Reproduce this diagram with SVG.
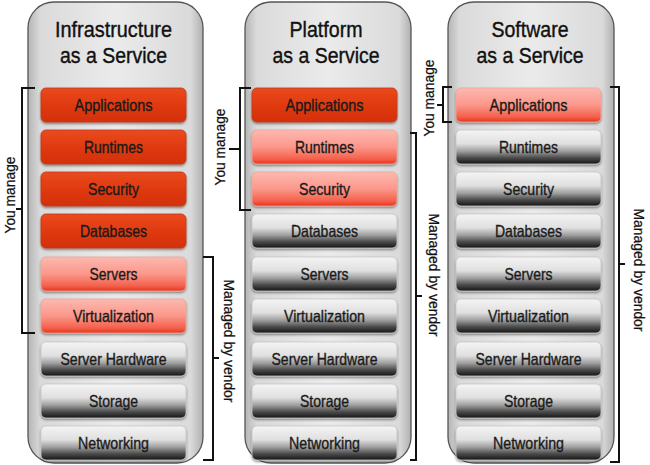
<svg xmlns="http://www.w3.org/2000/svg" width="650" height="465" viewBox="0 0 650 465">
<defs>
<linearGradient id="gCol" x1="0" y1="0" x2="1" y2="0">
<stop offset="0" stop-color="#b5b5b5"/><stop offset="0.07" stop-color="#dadada"/><stop offset="0.5" stop-color="#ebebeb"/><stop offset="0.93" stop-color="#dadada"/><stop offset="1" stop-color="#b0b0b0"/>
</linearGradient>
<linearGradient id="gDark" x1="0" y1="0" x2="0" y2="1">
<stop offset="0" stop-color="#ea4a1e"/><stop offset="0.5" stop-color="#e03a10"/><stop offset="1" stop-color="#d2300a"/>
</linearGradient>
<linearGradient id="gLight" x1="0" y1="0" x2="0" y2="1">
<stop offset="0" stop-color="#fdb9b0"/><stop offset="0.5" stop-color="#fb978a"/><stop offset="0.85" stop-color="#f4604c"/><stop offset="1" stop-color="#e8321c"/>
</linearGradient>
<linearGradient id="gGray" x1="0" y1="0" x2="0" y2="1">
<stop offset="0" stop-color="#f4f4f4"/><stop offset="0.4" stop-color="#e0e0e0"/><stop offset="0.62" stop-color="#a0a0a0"/><stop offset="0.82" stop-color="#4a4a4a"/><stop offset="1" stop-color="#161616"/>
</linearGradient>
<filter id="sh" x="-5%" y="-10%" width="110%" height="130%">
<feDropShadow dx="0" dy="1.5" stdDeviation="1" flood-color="#000" flood-opacity="0.45"/>
</filter>
</defs>
<style>
.col{fill:url(#gCol);stroke:#555;stroke-width:1.3}
.dark{fill:url(#gDark);stroke:#c23a18;stroke-width:0.8;filter:url(#sh)}
.light{fill:url(#gLight);stroke:#e9a79c;stroke-width:0.8;filter:url(#sh)}
.gray{fill:url(#gGray);stroke:#c8c8c8;stroke-width:0.8;filter:url(#sh)}
.lbl{font-family:"Liberation Sans",Arial,sans-serif;font-size:16.5px;fill:#1a1a1a;stroke:#1a1a1a;stroke-width:0.35;text-anchor:middle}
.ttl{font-family:"Liberation Sans",Arial,sans-serif;font-size:22.5px;fill:#111;stroke:#111;stroke-width:0.4;text-anchor:middle}
.brk{font-family:"Liberation Sans",Arial,sans-serif;font-size:15.5px;fill:#111;stroke:#111;stroke-width:0.25;text-anchor:middle}
.br{fill:none;stroke:#111;stroke-width:2}
</style>

<g id="col-iaas">
<rect class="col" x="28" y="2" width="175" height="461" rx="26"/>
<text class="ttl" x="113.5" y="37" textLength="117" lengthAdjust="spacingAndGlyphs">Infrastructure</text>
<text class="ttl" x="113.5" y="63" textLength="107" lengthAdjust="spacingAndGlyphs">as a Service</text>
<g id="iaas-applications"><rect class="dark" x="41" y="88" width="145" height="34" rx="5"/><text class="lbl" x="113.5" y="110.8" textLength="78" lengthAdjust="spacingAndGlyphs">Applications</text></g>
<g id="iaas-runtimes"><rect class="dark" x="41" y="130" width="145" height="34" rx="5"/><text class="lbl" x="113.5" y="152.8" textLength="59" lengthAdjust="spacingAndGlyphs">Runtimes</text></g>
<g id="iaas-security"><rect class="dark" x="41" y="172" width="145" height="34" rx="5"/><text class="lbl" x="113.5" y="194.8" textLength="51" lengthAdjust="spacingAndGlyphs">Security</text></g>
<g id="iaas-databases"><rect class="dark" x="41" y="214" width="145" height="34" rx="5"/><text class="lbl" x="113.5" y="236.8" textLength="67" lengthAdjust="spacingAndGlyphs">Databases</text></g>
<g id="iaas-servers"><rect class="light" x="41" y="257" width="145" height="34" rx="5"/><text class="lbl" x="113.5" y="279.8" textLength="48" lengthAdjust="spacingAndGlyphs">Servers</text></g>
<g id="iaas-virtualization"><rect class="light" x="41" y="299" width="145" height="34" rx="5"/><text class="lbl" x="113.5" y="321.8" textLength="81" lengthAdjust="spacingAndGlyphs">Virtualization</text></g>
<g id="iaas-serverhw"><rect class="gray" x="41" y="342" width="145" height="34" rx="5"/><text class="lbl" x="113.5" y="364.8" textLength="106" lengthAdjust="spacingAndGlyphs">Server Hardware</text></g>
<g id="iaas-storage"><rect class="gray" x="41" y="384" width="145" height="34" rx="5"/><text class="lbl" x="113.5" y="406.8" textLength="49" lengthAdjust="spacingAndGlyphs">Storage</text></g>
<g id="iaas-networking"><rect class="gray" x="41" y="426" width="145" height="34" rx="5"/><text class="lbl" x="113.5" y="448.8" textLength="71" lengthAdjust="spacingAndGlyphs">Networking</text></g>
</g>

<g id="col-paas">
<rect class="col" x="245" y="2" width="166" height="461" rx="26"/>
<text class="ttl" x="326" y="37" textLength="73" lengthAdjust="spacingAndGlyphs">Platform</text>
<text class="ttl" x="326" y="63" textLength="107" lengthAdjust="spacingAndGlyphs">as a Service</text>
<g id="paas-applications"><rect class="dark" x="252" y="88" width="145" height="34" rx="5"/><text class="lbl" x="324.5" y="110.8" textLength="78" lengthAdjust="spacingAndGlyphs">Applications</text></g>
<g id="paas-runtimes"><rect class="light" x="252" y="130" width="145" height="34" rx="5"/><text class="lbl" x="324.5" y="152.8" textLength="59" lengthAdjust="spacingAndGlyphs">Runtimes</text></g>
<g id="paas-security"><rect class="light" x="252" y="172" width="145" height="34" rx="5"/><text class="lbl" x="324.5" y="194.8" textLength="51" lengthAdjust="spacingAndGlyphs">Security</text></g>
<g id="paas-databases"><rect class="gray" x="252" y="214" width="145" height="34" rx="5"/><text class="lbl" x="324.5" y="236.8" textLength="67" lengthAdjust="spacingAndGlyphs">Databases</text></g>
<g id="paas-servers"><rect class="gray" x="252" y="257" width="145" height="34" rx="5"/><text class="lbl" x="324.5" y="279.8" textLength="48" lengthAdjust="spacingAndGlyphs">Servers</text></g>
<g id="paas-virtualization"><rect class="gray" x="252" y="299" width="145" height="34" rx="5"/><text class="lbl" x="324.5" y="321.8" textLength="81" lengthAdjust="spacingAndGlyphs">Virtualization</text></g>
<g id="paas-serverhw"><rect class="gray" x="252" y="342" width="145" height="34" rx="5"/><text class="lbl" x="324.5" y="364.8" textLength="106" lengthAdjust="spacingAndGlyphs">Server Hardware</text></g>
<g id="paas-storage"><rect class="gray" x="252" y="384" width="145" height="34" rx="5"/><text class="lbl" x="324.5" y="406.8" textLength="49" lengthAdjust="spacingAndGlyphs">Storage</text></g>
<g id="paas-networking"><rect class="gray" x="252" y="426" width="145" height="34" rx="5"/><text class="lbl" x="324.5" y="448.8" textLength="71" lengthAdjust="spacingAndGlyphs">Networking</text></g>
</g>

<g id="col-saas">
<rect class="col" x="448" y="2" width="166" height="461" rx="26"/>
<text class="ttl" x="530" y="37" textLength="77" lengthAdjust="spacingAndGlyphs">Software</text>
<text class="ttl" x="530" y="63" textLength="107" lengthAdjust="spacingAndGlyphs">as a Service</text>
<g id="saas-applications"><rect class="light" x="456" y="88" width="145" height="34" rx="5"/><text class="lbl" x="528.5" y="110.8" textLength="78" lengthAdjust="spacingAndGlyphs">Applications</text></g>
<g id="saas-runtimes"><rect class="gray" x="456" y="130" width="145" height="34" rx="5"/><text class="lbl" x="528.5" y="152.8" textLength="59" lengthAdjust="spacingAndGlyphs">Runtimes</text></g>
<g id="saas-security"><rect class="gray" x="456" y="172" width="145" height="34" rx="5"/><text class="lbl" x="528.5" y="194.8" textLength="51" lengthAdjust="spacingAndGlyphs">Security</text></g>
<g id="saas-databases"><rect class="gray" x="456" y="214" width="145" height="34" rx="5"/><text class="lbl" x="528.5" y="236.8" textLength="67" lengthAdjust="spacingAndGlyphs">Databases</text></g>
<g id="saas-servers"><rect class="gray" x="456" y="257" width="145" height="34" rx="5"/><text class="lbl" x="528.5" y="279.8" textLength="48" lengthAdjust="spacingAndGlyphs">Servers</text></g>
<g id="saas-virtualization"><rect class="gray" x="456" y="299" width="145" height="34" rx="5"/><text class="lbl" x="528.5" y="321.8" textLength="81" lengthAdjust="spacingAndGlyphs">Virtualization</text></g>
<g id="saas-serverhw"><rect class="gray" x="456" y="342" width="145" height="34" rx="5"/><text class="lbl" x="528.5" y="364.8" textLength="106" lengthAdjust="spacingAndGlyphs">Server Hardware</text></g>
<g id="saas-storage"><rect class="gray" x="456" y="384" width="145" height="34" rx="5"/><text class="lbl" x="528.5" y="406.8" textLength="49" lengthAdjust="spacingAndGlyphs">Storage</text></g>
<g id="saas-networking"><rect class="gray" x="456" y="426" width="145" height="34" rx="5"/><text class="lbl" x="528.5" y="448.8" textLength="71" lengthAdjust="spacingAndGlyphs">Networking</text></g>
</g>

<g id="brackets">
<path class="br" d="M35,88 H22 V333 H35 M22,209 H16"/>
<path class="br" d="M203,257 H213 V460 H203 M213,358 H219"/>
<path class="br" d="M251,88 H240 V210 H251 M240,149 H229"/>
<path class="br" d="M410,133 H416 V460 H410 M416,296 H422"/>
<path class="br" d="M452,87 H443 V122 H452 M443,105 H437"/>
<path class="br" d="M610,87 H619 V462 H610 M619,264 H625"/>
<text class="brk" transform="translate(15,195) rotate(-90)" textLength="77" lengthAdjust="spacingAndGlyphs">You manage</text>
<text class="brk" transform="translate(225,147) rotate(-90)" textLength="77" lengthAdjust="spacingAndGlyphs">You manage</text>
<text class="brk" transform="translate(434,98) rotate(-90)" textLength="77" lengthAdjust="spacingAndGlyphs">You manage</text>
<text class="brk" transform="translate(224,341) rotate(90)" textLength="123" lengthAdjust="spacingAndGlyphs">Managed by vendor</text>
<text class="brk" transform="translate(429,275) rotate(90)" textLength="123" lengthAdjust="spacingAndGlyphs">Managed by vendor</text>
<text class="brk" transform="translate(634,270) rotate(90)" textLength="123" lengthAdjust="spacingAndGlyphs">Managed by vendor</text>
</g>
</svg>
